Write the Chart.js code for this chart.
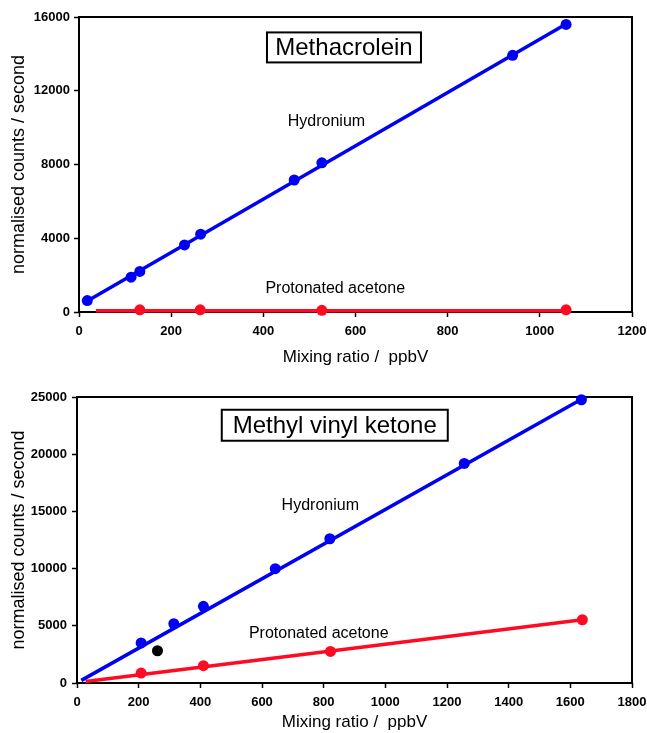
<!DOCTYPE html>
<html>
<head>
<meta charset="utf-8">
<script src="https://cdn.jsdelivr.net/npm/chart.js@4.4.0/dist/chart.umd.min.js"></script>
<style>
    html, body { margin: 0; padding: 0; background: #fff; }
    .panel { position: absolute; left: 0; width: 647px; }
    #topPanel { top: 0; height: 368px; }
    #bottomPanel { top: 368px; height: 365px; }
</style>
</head>
<body>
<div class="panel" id="topPanel"><canvas id="methacroleinChart"></canvas></div>
<div class="panel" id="bottomPanel"><canvas id="mvkChart"></canvas></div>
<script>
// Methacrolein panel
const macrMixing = [18, 113, 132, 229, 264, 467, 527, 941, 1057];
const macrHydronium = [620, 1890, 2200, 3640, 4220, 7160, 8090, 13920, 15600];
const macrAcetoneMixing = [132, 263, 527, 1057];
const macrAcetone = [120, 120, 90, 120];
const macrHydroniumFitX = [18, 1057];
const macrHydroniumFitY = [600, 15620];
const macrAcetoneFitX = [37, 1057];
const macrAcetoneFitY = [70, 70];
const macrXTicks = [0, 200, 400, 600, 800, 1000, 1200];
const macrYTicks = [0, 4000, 8000, 12000, 16000];

// Methyl vinyl ketone panel
const mvkMixing = [208, 314, 410, 643, 820, 1256, 1636];
const mvkHydronium = [3500, 5180, 6700, 9990, 12610, 19190, 24760];
const mvkAcetoneMixing = [208, 410, 822, 1639];
const mvkAcetone = [870, 1510, 2760, 5530];
const mvkOutlierX = [261];
const mvkOutlierY = [2820];
const mvkHydroniumFitX = [14, 1636];
const mvkHydroniumFitY = [230, 24800];
const mvkAcetoneFitX = [28, 1639];
const mvkAcetoneFitY = [140, 5530];
const mvkXTicks = [0, 200, 400, 600, 800, 1000, 1200, 1400, 1600, 1800];
const mvkYTicks = [0, 5000, 10000, 15000, 20000, 25000];

const BLUE = "rgb(0, 0, 245)";
const RED = "rgb(255, 10, 35)";
const FONT = "'Liberation Sans', Arial, sans-serif";

const toPoints = (xs, ys) => xs.map((x, i) => ({ x: x, y: ys[i] }));

function pointSet(xs, ys, color) {
    return {
        data: toPoints(xs, ys),
        showLine: false,
        pointRadius: 5.5,
        pointBackgroundColor: color,
        pointBorderColor: color,
        pointBorderWidth: 0,
        clip: false,
        order: 0
    };
}

function lineSet(xs, ys, color) {
    return {
        data: toPoints(xs, ys),
        showLine: true,
        borderColor: color,
        borderWidth: 3.5,
        pointRadius: 0,
        clip: false,
        order: 1
    };
}

// black box round the plot area, drawn under the markers
const framePlugin = {
    id: "frame",
    beforeDatasetsDraw(chart) {
        const { ctx, chartArea: a } = chart;
        ctx.save();
        ctx.strokeStyle = "#000";
        ctx.lineWidth = 2;
        ctx.strokeRect(a.left, a.top, a.right - a.left, a.bottom - a.top);
        ctx.restore();
    }
};

// free text labels, placed in data coordinates
const labelPlugin = {
    id: "labels",
    afterDatasetsDraw(chart, args, opts) {
        const ctx = chart.ctx;
        const xs = chart.scales.x;
        const ys = chart.scales.y;
        ctx.save();
        ctx.fillStyle = "#000";
        ctx.textAlign = "center";
        ctx.textBaseline = "middle";
        (opts.items || []).forEach(item => {
            const px = xs.getPixelForValue(item.x);
            const py = ys.getPixelForValue(item.y);
            ctx.font = item.size + "px " + FONT;
            ctx.fillText(item.text, px, py + 1);
            if (item.box) {
                ctx.lineWidth = 2;
                ctx.strokeStyle = "#000";
                ctx.strokeRect(px - item.box[0] / 2, py - item.box[1] / 2, item.box[0], item.box[1]);
            }
        });
        ctx.restore();
    }
};

function makeChart(id, datasets, cfg) {
    return new Chart(id, {
        type: "scatter",
        data: { datasets: datasets },
        plugins: [framePlugin, labelPlugin],
        options: {
            responsive: true,
            maintainAspectRatio: false,
            animation: false,
            layout: { padding: { top: cfg.padTop, right: cfg.padRight, left: 0, bottom: 0 } },
            plugins: {
                legend: { display: false },
                tooltip: { enabled: false },
                labels: { items: cfg.labels }
            },
            scales: {
                x: {
                    type: "linear",
                    min: 0,
                    max: cfg.xTicks[cfg.xTicks.length - 1],
                    afterBuildTicks: s => { s.ticks = cfg.xTicks.map(v => ({ value: v })); },
                    afterFit: s => { s.height = cfg.xHeight; s.paddingLeft = 0; s.paddingRight = 0; },
                    border: { display: false },
                    grid: { drawOnChartArea: false, drawTicks: true, tickLength: 5, tickColor: "#000", tickWidth: 1.5 },
                    ticks: { padding: 7, color: "#000", maxRotation: 0, callback: v => String(v), font: { family: FONT, size: 13, weight: "bold" } },
                    title: { display: true, text: "Mixing ratio /  ppbV", color: "#000", padding: { top: 0, bottom: 0 }, font: { family: FONT, size: 17 } }
                },
                y: {
                    type: "linear",
                    min: 0,
                    max: cfg.yTicks[cfg.yTicks.length - 1],
                    afterBuildTicks: s => { s.ticks = cfg.yTicks.map(v => ({ value: v })); },
                    afterFit: s => { s.width = cfg.yWidth; s.paddingTop = 0; s.paddingBottom = 0; },
                    border: { display: false },
                    grid: { drawOnChartArea: false, drawTicks: true, tickLength: 5, tickColor: "#000", tickWidth: 1.5 },
                    ticks: { padding: cfg.yTickPad, color: "#000", callback: v => String(v), font: { family: FONT, size: 13, weight: "bold" } },
                    title: { display: true, text: "normalised counts / second", color: "#000", padding: { top: 8, bottom: 0 }, font: { family: FONT, size: 18 } }
                }
            }
        }
    });
}

makeChart("methacroleinChart", [
    pointSet(macrMixing, macrHydronium, BLUE),
    pointSet(macrAcetoneMixing, macrAcetone, RED),
    lineSet(macrHydroniumFitX, macrHydroniumFitY, BLUE),
    lineSet(macrAcetoneFitX, macrAcetoneFitY, RED)
], {
    xTicks: macrXTicks, yTicks: macrYTicks,
    padTop: 17, padRight: 15, xHeight: 56, yWidth: 79, yTickPad: 4,
    labels: [
        { text: "Methacrolein", x: 575, y: 14350, size: 24, box: [154, 30] },
        { text: "Hydronium", x: 537, y: 10400, size: 16 },
        { text: "Protonated acetone", x: 556, y: 1315, size: 16 }
    ]
});

makeChart("mvkChart", [
    pointSet(mvkMixing, mvkHydronium, BLUE),
    pointSet(mvkAcetoneMixing, mvkAcetone, RED),
    pointSet(mvkOutlierX, mvkOutlierY, "#000"),
    lineSet(mvkHydroniumFitX, mvkHydroniumFitY, BLUE),
    lineSet(mvkAcetoneFitX, mvkAcetoneFitY, RED)
], {
    xTicks: mvkXTicks, yTicks: mvkYTicks,
    padTop: 29, padRight: 15, xHeight: 50, yWidth: 77, yTickPad: 5,
    labels: [
        { text: "Methyl vinyl ketone", x: 836, y: 22530, size: 24, box: [226, 31] },
        { text: "Hydronium", x: 789, y: 15580, size: 16 },
        { text: "Protonated acetone", x: 784, y: 4420, size: 16 }
    ]
});
</script>
</body>
</html>
